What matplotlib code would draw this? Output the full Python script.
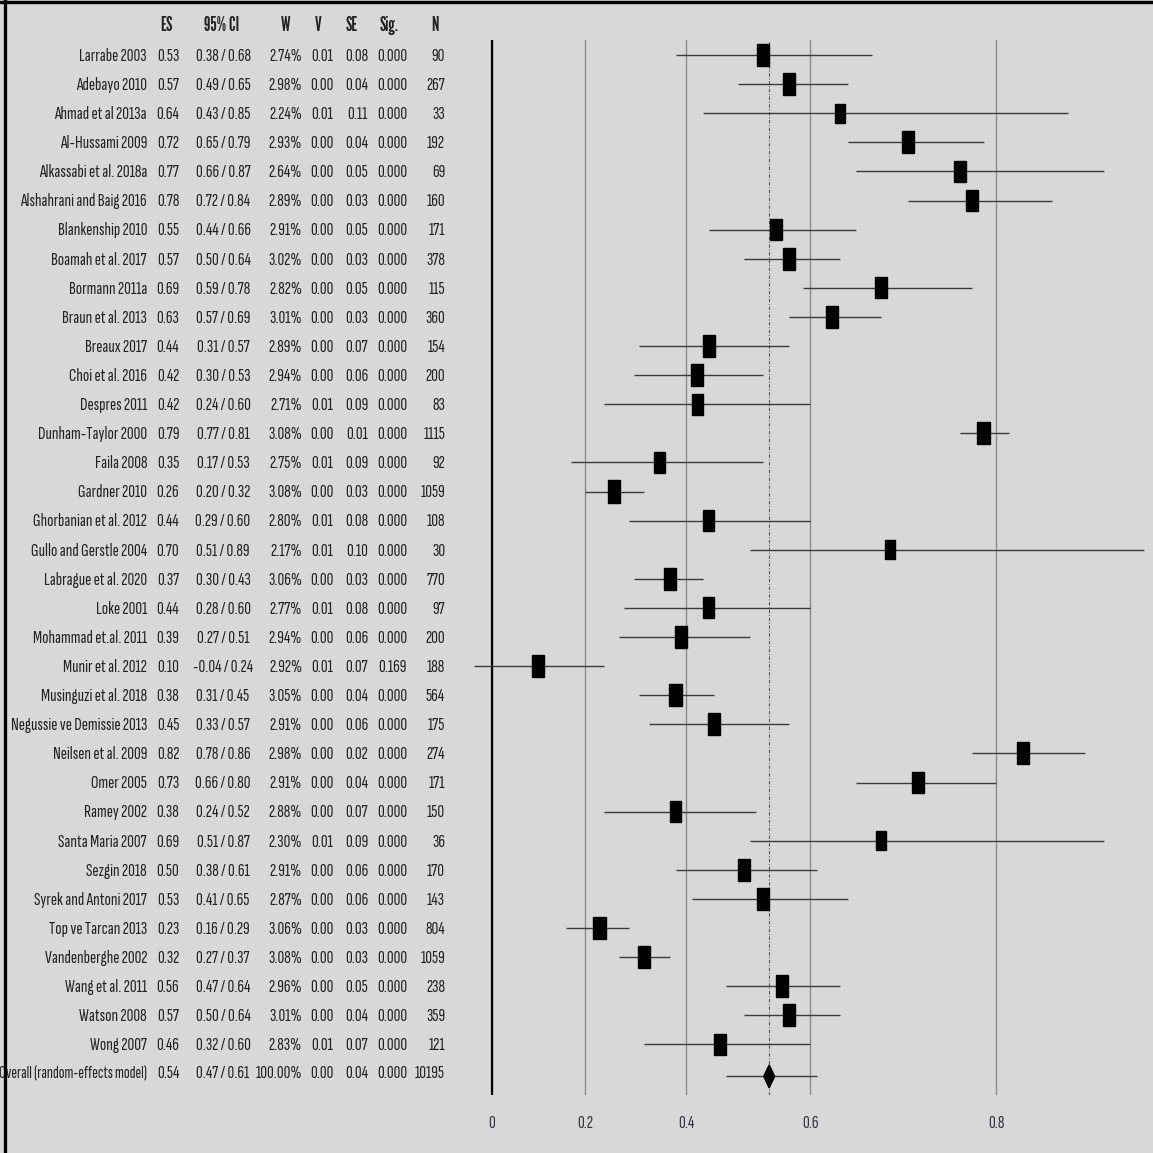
import numpy as np
import matplotlib
matplotlib.use('Agg')
import matplotlib.pyplot as plt
from matplotlib.patches import Rectangle, Polygon
from matplotlib.lines import Line2D

# study table
studies = ['Larrabe 2003', 'Adebayo 2010', 'Ahmad et al 2013a', 'Al-Hussami 2009',
           'Alkassabi et al. 2018a', 'Alshahrani and Baig 2016', 'Blankenship 2010',
           'Boamah et al. 2017', 'Bormann 2011a', 'Braun et al. 2013', 'Breaux 2017',
           'Choi et al. 2016', 'Despres 2011', 'Dunham-Taylor 2000', 'Faila 2008',
           'Gardner 2010', 'Ghorbanian et al. 2012', 'Gullo and Gerstle 2004',
           'Labrague et al. 2020', 'Loke 2001', 'Mohammad et.al. 2011', 'Munir et al. 2012',
           'Musinguzi et al. 2018', 'Negussie ve Demissie 2013', 'Neilsen et al. 2009',
           'Omer 2005', 'Ramey 2002', 'Santa Maria 2007', 'Sezgin 2018',
           'Syrek and Antoni 2017', 'Top ve Tarcan 2013', 'Vandenberghe 2002',
           'Wang et al. 2011', 'Watson 2008', 'Wong 2007']
es = [0.53, 0.57, 0.64, 0.72, 0.77, 0.78, 0.55, 0.57, 0.69, 0.63, 0.44, 0.42, 0.42,
      0.79, 0.35, 0.26, 0.44, 0.70, 0.37, 0.44, 0.39, 0.10, 0.38, 0.45, 0.82, 0.73,
      0.38, 0.69, 0.50, 0.53, 0.23, 0.32, 0.56, 0.57, 0.46]
ci_lo = [0.38, 0.49, 0.43, 0.65, 0.66, 0.72, 0.44, 0.50, 0.59, 0.57, 0.31, 0.30, 0.24,
         0.77, 0.17, 0.20, 0.29, 0.51, 0.30, 0.28, 0.27, -0.04, 0.31, 0.33, 0.78, 0.66,
         0.24, 0.51, 0.38, 0.41, 0.16, 0.27, 0.47, 0.50, 0.32]
ci_hi = [0.68, 0.65, 0.85, 0.79, 0.87, 0.84, 0.66, 0.64, 0.78, 0.69, 0.57, 0.53, 0.60,
         0.81, 0.53, 0.32, 0.60, 0.89, 0.43, 0.60, 0.51, 0.24, 0.45, 0.57, 0.86, 0.80,
         0.52, 0.87, 0.61, 0.65, 0.29, 0.37, 0.64, 0.64, 0.60]
weight = [2.74, 2.98, 2.24, 2.93, 2.64, 2.89, 2.91, 3.02, 2.82, 3.01, 2.89, 2.94, 2.71,
          3.08, 2.75, 3.08, 2.80, 2.17, 3.06, 2.77, 2.94, 2.92, 3.05, 2.91, 2.98, 2.91,
          2.88, 2.30, 2.91, 2.87, 3.06, 3.08, 2.96, 3.01, 2.83]
var = [0.01, 0.00, 0.01, 0.00, 0.00, 0.00, 0.00, 0.00, 0.00, 0.00, 0.00, 0.00, 0.01,
       0.00, 0.01, 0.00, 0.01, 0.01, 0.00, 0.01, 0.00, 0.01, 0.00, 0.00, 0.00, 0.00,
       0.00, 0.01, 0.00, 0.00, 0.00, 0.00, 0.00, 0.00, 0.01]
se = [0.08, 0.04, 0.11, 0.04, 0.05, 0.03, 0.05, 0.03, 0.05, 0.03, 0.07, 0.06, 0.09,
      0.01, 0.09, 0.03, 0.08, 0.10, 0.03, 0.08, 0.06, 0.07, 0.04, 0.06, 0.02, 0.04,
      0.07, 0.09, 0.06, 0.06, 0.03, 0.03, 0.05, 0.04, 0.07]
sig = [0.000] * 21 + [0.169] + [0.000] * 13
n = [90, 267, 33, 192, 69, 160, 171, 378, 115, 360, 154, 200, 83, 1115, 92, 1059, 108,
     30, 770, 97, 200, 188, 564, 175, 274, 171, 150, 36, 170, 143, 804, 1059, 238, 359, 121]

overall_label = 'Overall (random-effects model)'
overall_es, overall_lo, overall_hi = 0.54, 0.47, 0.61
overall_w, overall_v, overall_se, overall_sig, overall_n = 100.00, 0.00, 0.04, 0.000, 10195

headers = ['ES', '95% CI', 'W', 'V', 'SE', 'Sig.', 'N']
tick_vals = [0, 0.2, 0.4, 0.6, 0.8]

# condensed faces to mimic the squeezed Arial of the original
BODY_FONT = ['Sofia Sans Extra Condensed', 'Pathway Gothic One', 'DejaVu Sans']
HEAD_FONT = ['League Gothic', 'Sofia Sans Extra Condensed', 'DejaVu Sans']
plt.rcParams['font.family'] = BODY_FONT
BG = '#d8d8d8'
TXT = '#222222'
FS = 13.5

W_PX, H_PX = 1153, 1153
PX_PER_Z = 458.8
ROW_PX = 29.1
ROW0 = 55

fig = plt.figure(figsize=(W_PX / 100, H_PX / 100), dpi=100, facecolor=BG)

top_px, bot_px = 40, 1095
ax_bottom = 1 - bot_px / H_PX
ax_height = (bot_px - top_px) / H_PX
ylim = ((bot_px - ROW0) / ROW_PX, (top_px - ROW0) / ROW_PX)

# forest plot panel (x on Fisher z scale)
left_px = 462
ax = fig.add_axes([left_px / W_PX, ax_bottom, (W_PX - left_px) / W_PX, ax_height])
ax.set_facecolor('none')
ax.set_xlim((left_px - 492) / PX_PER_Z, (W_PX - 492) / PX_PER_Z)
ax.set_ylim(*ylim)
for s in ax.spines.values():
    s.set_visible(False)
ax.set_yticks([])
ax.set_xticks(np.arctanh(tick_vals))
ax.set_xticklabels([f'{t:g}' for t in tick_vals])
ax.tick_params(axis='x', length=0, pad=14.5, labelsize=FS, labelcolor='#333340')
ax.xaxis.grid(True, color='#8a8a8a', lw=1.0)
ax.set_axisbelow(True)
ax.axvline(0, color='black', lw=1.6, zorder=2)
ax.axvline(np.arctanh(overall_es), color='#555555', lw=0.8,
           dashes=(3, 1.5, 1, 1.5), zorder=2)

rows = np.arange(len(studies))
z = np.arctanh(es)
z_lo = np.arctanh(ci_lo)
z_hi = np.arctanh(ci_hi)
ax.hlines(rows, z_lo, z_hi, color='#3a3a3a', lw=1.0, zorder=3)
for r, zz, w in zip(rows, z, weight):
    bw = 6.95 * np.sqrt(w) / PX_PER_Z
    bh = 12.7 * np.sqrt(w) / ROW_PX
    ax.add_patch(Rectangle((zz - bw / 2, r - bh / 2), bw, bh, color='black', zorder=4))

orow = len(studies) + 0.1
oz = np.arctanh(overall_es)
ax.hlines(orow, np.arctanh(overall_lo), np.arctanh(overall_hi), color='#3a3a3a', lw=1.0, zorder=3)
dw = 5.5 / PX_PER_Z
dh = 11.5 / ROW_PX
ax.add_patch(Polygon([(oz - dw, orow), (oz, orow - dh), (oz + dw, orow), (oz, orow + dh)],
                     closed=True, color='black', zorder=4))

# table panel
axt = fig.add_axes([0, ax_bottom, left_px / W_PX, ax_height])
axt.set_xlim(0, left_px)
axt.set_ylim(*ylim)
axt.axis('off')

# column positions (px) and alignment
cols = [(147, 'right'), (168, 'center'), (223, 'center'), (302, 'right'),
        (322, 'center'), (357, 'center'), (392, 'center'), (445, 'right')]
head_x = [166, 222, 286, 318, 352, 389, 435]
base_off = 0.2


def put(x, y, s, ha, fs=FS, family=None):
    axt.text(x, y + base_off, s, ha=ha, va='baseline', fontsize=fs, color=TXT,
             family=family or BODY_FONT, clip_on=False)


head_row = (25 - ROW0) / ROW_PX
for hx, h in zip(head_x, headers):
    put(hx, head_row, h, 'center', fs=13.5, family=HEAD_FONT)

for i in range(len(studies)):
    vals = [studies[i], f'{es[i]:.2f}', f'{ci_lo[i]:.2f} / {ci_hi[i]:.2f}', f'{weight[i]:.2f}%',
            f'{var[i]:.2f}', f'{se[i]:.2f}', f'{sig[i]:.3f}', f'{n[i]}']
    for (cx, ha), v in zip(cols, vals):
        put(cx, i, v, ha)

ovals = [overall_label, f'{overall_es:.2f}', f'{overall_lo:.2f} / {overall_hi:.2f}',
         f'{overall_w:.2f}%', f'{overall_v:.2f}', f'{overall_se:.2f}', f'{overall_sig:.3f}',
         f'{overall_n}']
for k, ((cx, ha), v) in enumerate(zip(cols, ovals)):
    put(cx, orow - 0.15, v, ha, fs=12.5 if k == 0 else FS)

# frame lines at top and left
fig.add_artist(Line2D([0, 1], [1 - 1.5 / H_PX] * 2, color='black', lw=2.4,
                      transform=fig.transFigure))
fig.add_artist(Line2D([5 / W_PX] * 2, [0, 1], color='black', lw=2.4,
                      transform=fig.transFigure))

fig.savefig('out.png', dpi=100, facecolor=BG)
